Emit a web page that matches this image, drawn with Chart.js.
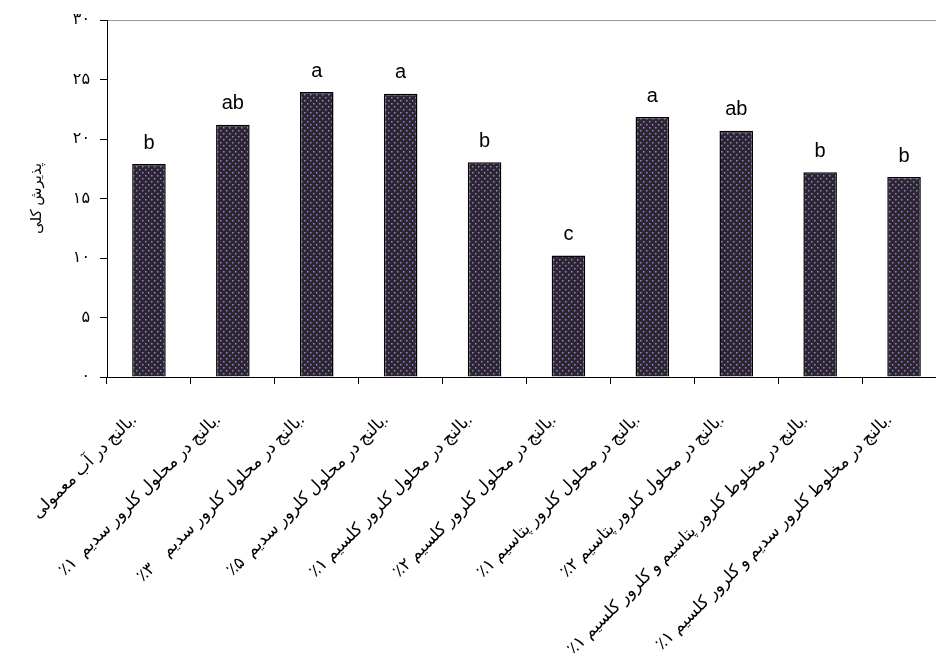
<!doctype html>
<html lang="fa">
<head>
    <meta charset="UTF-8">
    <title>پذیرش کلی</title>
    <script src="https://cdn.jsdelivr.net/npm/chart.js"></script>
    <style>
        html, body { margin: 0; padding: 0; overflow: hidden; background: #fff; }
        #wrap { width: 950px; height: 653px; }
    </style>
</head>
<body>
<div id="wrap">
    <canvas id="chart"></canvas>
</div>
<script>
  const labels = [
    'بالنج در آب معمولی.',
    '٪۱  بالنج در محلول کلرور سدیم.',
    '٪۳    بالنج در محلول کلرور سدیم.',
    '٪۵  بالنج در محلول کلرور سدیم.',
    '٪۱ بالنج در محلول کلرور کلسیم.',
    '٪۲ بالنج در محلول کلرور کلسیم.',
    '٪۱ بالنج در محلول کلرور پتاسیم.',
    '٪۲ بالنج در محلول کلرور پتاسیم.',
    '٪۱ بالنج در مخلوط کلرور پتاسیم و کلرور کلسیم.',
    '٪۱ بالنج در مخلوط کلرور سدیم و کلرور کلسیم.'
  ];
  const values = [17.9, 21.2, 23.95, 23.8, 18.05, 10.2, 21.85, 20.7, 17.2, 16.8];
  const letters = ['b', 'ab', 'a', 'a', 'b', 'c', 'a', 'ab', 'b', 'b'];
  const yTickLabels = ['۰', '۵', '۱۰', '۱۵', '۲۰', '۲۵', '۳۰'];
  const yTitle = 'پذیرش کلی';

  // dark fill with small purple dots
  function dotPattern() {
    const c = document.createElement('canvas');
    c.width = 6;
    c.height = 6;
    const g = c.getContext('2d');
    g.fillStyle = '#2a282c';
    g.fillRect(0, 0, 6, 6);
    g.fillStyle = '#a176e4';
    g.fillRect(1, 1, 1.5, 1.5);
    g.fillRect(4, 4, 1.5, 1.5);
    return g.createPattern(c, 'repeat');
  }

  const letterPlugin = {
    id: 'letters',
    afterDatasetsDraw(chart) {
      const ctx = chart.ctx;
      const meta = chart.getDatasetMeta(0);
      ctx.save();
      ctx.fillStyle = '#000';
      ctx.font = '20px "Liberation Sans", Arial, sans-serif';
      ctx.textAlign = 'center';
      ctx.textBaseline = 'bottom';
      meta.data.forEach((bar, i) => {
        ctx.fillText(letters[i], bar.x, bar.y - 11);
      });
      ctx.restore();
    }
  };

  const labelFont = '"Liberation Serif", "DejaVu Sans", serif';

  new Chart(document.getElementById('chart'), {
    type: 'bar',
    data: {
      labels: labels,
      datasets: [{
        data: values,
        backgroundColor: dotPattern(),
        borderColor: '#000',
        borderWidth: 1.5,
        barPercentage: 0.4,
        categoryPercentage: 1.0
      }]
    },
    options: {
      responsive: true,
      maintainAspectRatio: false,
      animation: false,
      layout: {padding: {top: 20, right: 4, left: 0, bottom: 0}},
      plugins: {
        legend: {display: false},
        tooltip: {enabled: false}
      },
      scales: {
        x: {
          grid: {
            offset: true,
            drawOnChartArea: false,
            tickLength: 7,
            tickColor: '#000'
          },
          border: {color: '#000', width: 1},
          ticks: {
            autoSkip: false,
            maxRotation: 45,
            minRotation: 45,
            padding: 26,
            labelOffset: -15,
            color: '#000',
            font: {family: labelFont, size: 17}
          },
          afterFit(scale) {
            scale.height = 276;
          }
        },
        y: {
          min: 0,
          max: 30,
          grid: {
            drawOnChartArea: true,
            color: (ctx) => ctx.tick && ctx.tick.value === 30 ? '#9a9a9a' : 'rgba(0,0,0,0)',
            tickLength: 7,
            tickColor: '#000'
          },
          border: {color: '#000', width: 1},
          ticks: {
            stepSize: 5,
            padding: 10,
            color: '#000',
            font: {family: labelFont, size: 16},
            callback: (value) => yTickLabels[value / 5]
          },
          title: {
            display: true,
            text: yTitle,
            color: '#000',
            padding: {top: 28, bottom: 0},
            font: {family: labelFont, size: 15}
          },
          afterFit(scale) {
            scale.width = 107;
          }
        }
      }
    },
    plugins: [letterPlugin]
  });
</script>
</body>
</html>
